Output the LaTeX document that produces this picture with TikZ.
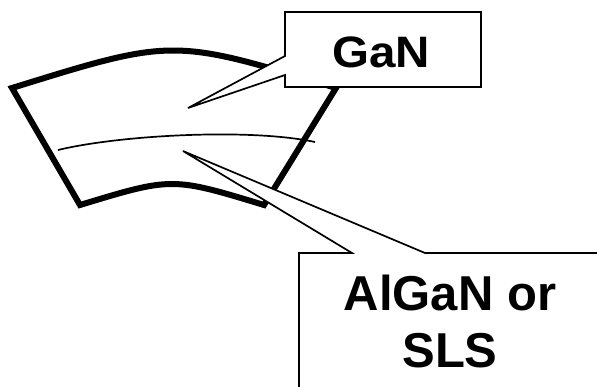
\documentclass[tikz,border=0pt]{standalone}
\usepackage{fontspec}
\setmainfont{Liberation Sans}
\begin{document}
\begin{tikzpicture}[x=1pt,y=-1pt,
    layer/.style={line width=6pt,line join=miter},
    interface/.style={line width=1.7pt},
    callout/.style={draw,fill=white,line width=1.7pt,line join=miter},
    lbl/.style={inner sep=0pt,font=\bfseries}]
  \useasboundingbox (0,0) rectangle (597,386);
  \clip (0,0) rectangle (597,386);

  % curved wafer section
  \coordinate (tl) at (12,88);
  \coordinate (tr) at (336,88);
  \coordinate (br) at (264,205);
  \coordinate (bl) at (80,205);
  \draw[layer] (tl) .. controls (173,38) .. (tr) -- (br)
               .. controls (172,177) .. (bl) -- cycle;

  % interface between the two layers
  \coordinate (il) at (58,150);
  \coordinate (ir) at (315,142);
  \draw[interface] (il) .. controls (120,135) and (250,128) .. (ir);

  % callout for the upper layer
  \coordinate (gtip) at (188,108);
  \draw[callout] (285,12) -- (481,12) -- (481,87) -- (285,87) -- (285,75)
                 -- (gtip) -- (285,56) -- cycle;
  \node[lbl,font=\bfseries\fontsize{44}{50}\selectfont] (gan) at (381,52.5) {\scalebox{1.08}[1]{GaN}};

  % callout for the lower layer
  \coordinate (atip) at (183,151);
  \draw[callout] (299,253) -- (352,253) -- (atip) -- (425,253) -- (612,253)
                 -- (612,400) -- (299,400) -- cycle;
  \node[lbl,align=center,font=\bfseries\fontsize{49}{57}\selectfont] (algan) at (450,321) {AlGaN or\\SLS};
\end{tikzpicture}
\end{document}
